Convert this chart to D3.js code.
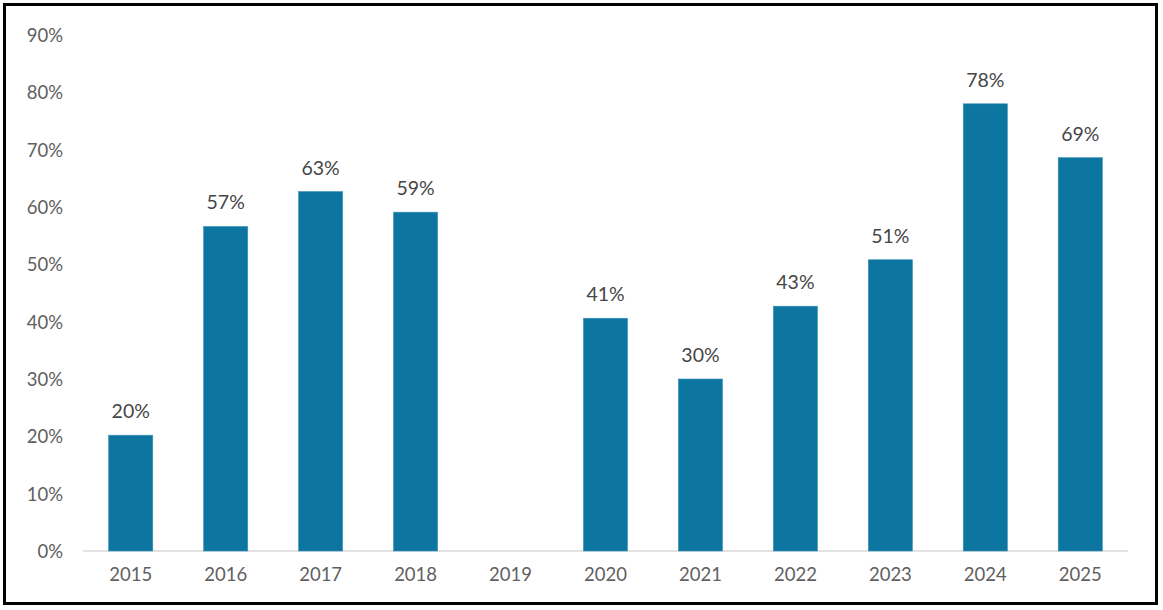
<!DOCTYPE html>
<html>
<head>
<meta charset="utf-8">
<script src="https://cdn.jsdelivr.net/npm/d3@7"></script>
<style>
  body { margin: 0; background: #fff; }
  svg { display: block; }
  .tick text { font-family: Lato, "Noto Sans", sans-serif; fill: #606060; }
  .valLabel { font-family: Lato, "Noto Sans", sans-serif; fill: #464646; }
</style>
</head>
<body>
<div id="main"></div>
<script>
const years = ["2015","2016","2017","2018","2019","2020","2021","2022","2023","2024","2025"]
const values = [20.2, 56.6, 62.7, 59.1, null, 40.6, 30.0, 42.7, 50.8, 78.0, 68.6]
const labels = ["20%","57%","63%","59%","","41%","30%","43%","51%","78%","69%"]
const yTicks = [0,10,20,30,40,50,60,70,80,90]

const width = 1163, height = 610

const svg = d3.select('#main').append('svg').attr("width", width).attr("height", height)

// frame
svg.append('rect').attr("x", 4.5).attr("y", 4.5).attr("width", 1152).attr("height", 599)
  .attr("fill", "none").attr("stroke", "#000").attr("stroke-width", 3)

const scaleX = d3.scaleBand().domain(years).range([83, 1128]).paddingInner(0.535).paddingOuter(0.27)
const scaleY = d3.scaleLinear().domain([0, 90]).range([551, 35])

// y axis (labels only)
const yAxis = svg.append('g').attr("transform", "translate(63,0)")
  .call(d3.axisLeft(scaleY).tickValues(yTicks).tickFormat(d => d + "%").tickSize(0).tickPadding(0))
yAxis.select(".domain").remove()
yAxis.selectAll("text").attr("font-size", 18.5).attr("dy", "0.35em")

// x baseline
svg.append('line').attr("x1", 83).attr("x2", 1128).attr("y1", 551).attr("y2", 551)
  .attr("stroke", "#d9d9d9").attr("stroke-width", 1.5)

const rows = years.map((y, i) => ({year: y, v: values[i], l: labels[i]})).filter(d => d.v != null)

const bars = svg.selectAll("rect.bar").data(rows).enter().append('rect').attr("class", "bar")
bars.attr("x", d => scaleX(d.year)).attr("width", scaleX.bandwidth())
  .attr("y", d => scaleY(d.v)).attr("height", d => scaleY(0) - scaleY(d.v))
  .attr("fill", "#0d76a0").attr("stroke", "#3d93b8").attr("stroke-width", 0.6)

svg.selectAll("text.valLabel").data(rows).enter().append('text').attr("class", "valLabel")
  .attr("x", d => scaleX(d.year) + scaleX.bandwidth() / 2)
  .attr("y", d => scaleY(d.v) - 17)
  .attr("text-anchor", "middle").attr("font-size", 19.5)
  .text(d => d.l)

// x axis labels
const xAxis = svg.append('g').attr("transform", "translate(0,551)")
  .call(d3.axisBottom(scaleX).tickSize(0).tickPadding(17))
xAxis.select(".domain").remove()
xAxis.selectAll("text").attr("font-size", 18.5)
</script>
</body>
</html>
